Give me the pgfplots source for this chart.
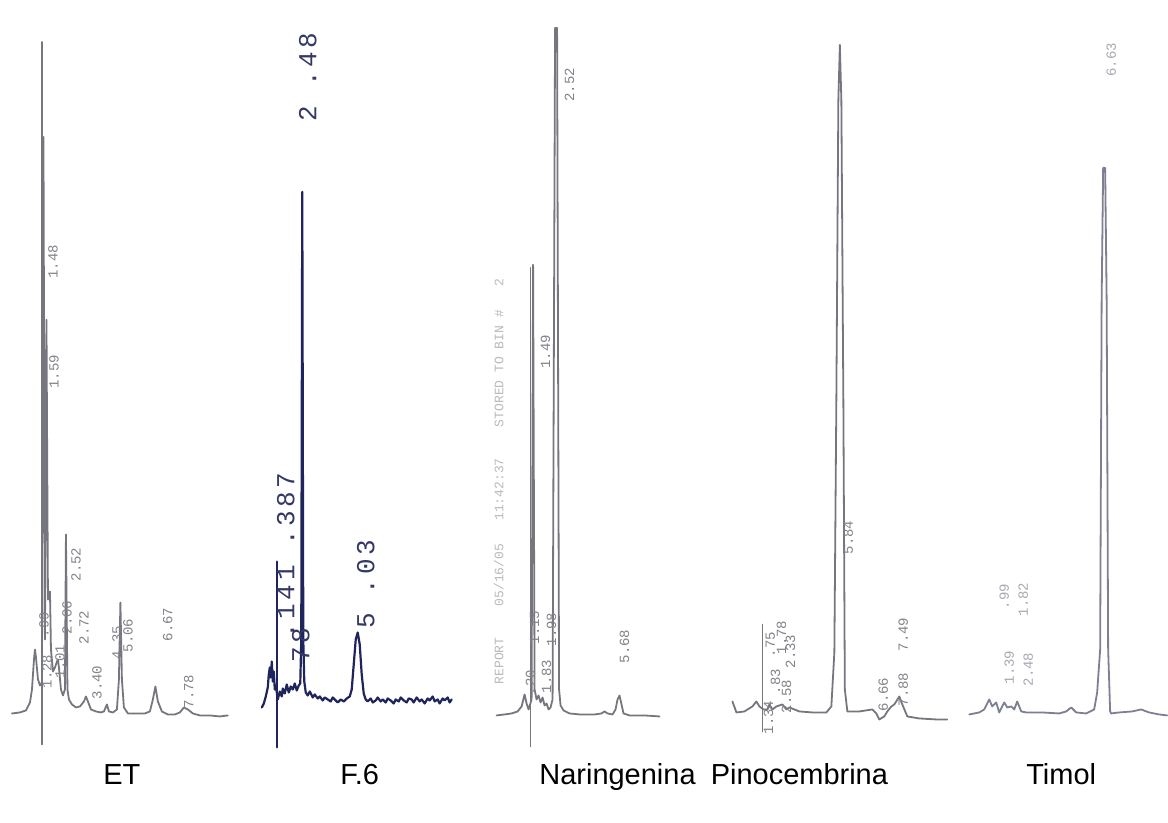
\documentclass[border=0pt]{standalone}
\usepackage{fontspec}
\setmainfont{Liberation Sans}
\setmonofont{Liberation Mono}
\newfontfamily\bigmono[LetterSpace=14]{Liberation Mono}
\usepackage{pgfplots}
\pgfplotsset{compat=1.18}

\definecolor{trace}{RGB}{118,118,126}
\definecolor{lbl}{RGB}{130,130,138}
\definecolor{navy}{RGB}{32,36,92}
\definecolor{navylbl}{RGB}{52,56,100}
\definecolor{timtrace}{RGB}{125,127,146}
\definecolor{timlbl}{RGB}{168,168,178}
\definecolor{faint}{RGB}{185,185,190}

\tikzset{
  rt/.style={rotate=90,inner sep=0pt,text=lbl,font=\ttfamily\fontsize{7}{7}\selectfont},
  rtbig/.style={rotate=90,inner sep=0pt,text=navylbl,font=\bigmono\fontsize{13}{13}\selectfont},
  title/.style={inner sep=0pt,anchor=base,font=\fontsize{14.5}{15}\selectfont,text=black},
}

\begin{document}
\begin{tikzpicture}
\begin{axis}[
  scale only axis, width=584pt, height=411.5pt,
  xmin=0, xmax=1168, ymin=0, ymax=823, y dir=reverse,
  hide axis, clip=false,
  every axis plot/.append style={line join=round, line cap=round},
]
\path (rel axis cs:0,0) rectangle (rel axis cs:1,1);

% ---------------- ET ----------------
\addplot[trace, line width=0.9pt] coordinates {(42,42) (42,745)};
\addplot[trace, line width=0.9pt] coordinates {
(12,714) (20,713) (26,711) (30,703) (32,690) (34,660) (35,650) (36,658)
(38,680) (40,686) (42,683) (43.5,137) (45,640) (46.5,320) (48,600) (50,592)
(51,650) (53,672) (55,668) (57,662) (58,660) (59,668) (61,690) (63,696)
(65,690) (66,535) (67.5,690) (69,700) (72,705) (76,708) (80,707) (84,702)
(86,697) (88,702) (91,710) (96,712) (101,713) (104,712) (107,705) (109,712)
(113,713) (117,710) (119,680) (120.5,603) (122,680) (124,708) (128,714)
(135,714) (145,714) (150,712) (153,700) (155.5,687) (158,702) (162,712)
(168,715) (175,715) (180,713) (184,708) (188,710) (193,714) (200,716)
(210,716) (220,717) (228,716)};
\node[rt] at (axis cs:53,262) {1.48};
\node[rt] at (axis cs:54,372) {1.59};
\node[rt] at (axis cs:44,625) {.99};
\node[rt] at (axis cs:47,672) {1.28};
\node[rt] at (axis cs:60,662) {1.01};
\node[rt] at (axis cs:67,618) {2.06};
\node[rt] at (axis cs:76,565) {2.52};
\node[rt] at (axis cs:84,628) {2.72};
\node[rt] at (axis cs:97,683) {3.40};
\node[rt] at (axis cs:117,643) {4.35};
\node[rt] at (axis cs:128,636) {5.06};
\node[rt] at (axis cs:168,625) {6.67};
\node[rt] at (axis cs:189,692) {7.78};
\node[title] at (axis cs:122,785) {ET};

% ---------------- F.6 ----------------
\addplot[navy, line width=1.1pt] coordinates {(277.5,562) (277.5,748)};
\addplot[navy, line width=1.1pt] coordinates {
(262,708) (264,704) (266,697) (268,688) (269,675) (270,668) (271,678)
(272,662) (273,682) (274,672) (275,690) (276,686) (278,700) (280,692)
(282,697) (283,689) (285,694) (287,685) (289,693) (291,687) (293,690)
(295,684) (297,691) (299,686) (300.5,684) (301.5,640) (302.5,192) (303.5,640)
(304.5,682) (306,693) (308,696) (310,692) (313,698) (315,695) (318,699)
(320,697) (323,701) (325,698) (328,700) (331,702) (333,698) (336,701)
(338,703) (341,700) (344,702) (347,699) (350,697) (352,690) (354,665)
(356,640) (358,633) (360,645) (362,675) (364,694) (366,700) (368,702)
(371,699) (373,703) (376,701) (378,698) (381,702) (383,700) (386,703)
(388,699) (391,701) (394,704) (396,700) (399,702) (401,698) (404,701)
(407,703) (409,699) (412,700) (414,703) (417,698) (420,702) (422,700)
(425,704) (428,699) (430,701) (433,697) (435,702) (438,700) (440,704)
(443,699) (445,701) (448,698) (450,703) (452,700)};
\node[rtbig] at (axis cs:308,77) {2 .48};
\node[rtbig] at (axis cs:286,556) {.141 .387};
\node[rtbig] at (axis cs:301,646) {78};
\node[rtbig] at (axis cs:366,585) {5 .03};
\node[title] at (axis cs:360,785) {F.6};

% ---------------- Naringenina ----------------
\node[rotate=90,inner sep=0pt,text=faint,font=\ttfamily\fontsize{6.5}{6.5}\selectfont]
  at (axis cs:499,482) {REPORT \ \ \ 05/16/05 \ \ 11:42:37 \ \ \ STORED TO BIN \# \ \ 2};
\addplot[trace, line width=0.9pt] coordinates {(531,268) (531,747)};
\addplot[trace, line width=0.9pt] coordinates {
(497,716) (505,715) (512,714) (518,712) (522,707) (525,695) (527,704)
(529,710) (532,700) (533.5,265) (535,690) (537,700) (539,696) (541,703)
(543,698) (545,706) (547,704) (549,710) (551,708) (553,700) (555.5,28)
(557.5,28) (559.5,690) (561,706) (564,711) (570,714) (580,715) (595,715)
(602,714) (605,712) (608,714) (613,715) (616,710) (618,700) (620,696)
(622,705) (624,714) (630,716) (645,716) (660,717)};
\node[rt] at (axis cs:570,85) {2.52};
\node[rt] at (axis cs:546,352) {1.49};
\node[rt] at (axis cs:535,628) {1.15};
\node[rt] at (axis cs:552,630) {1.98};
\node[rt] at (axis cs:531,683) {.20};
\node[rt] at (axis cs:547,677) {1.83};
\node[rt] at (axis cs:625,647) {5.68};
\node[title] at (axis cs:618,785) {Naringenina};

% ---------------- Pinocembrina ----------------
\addplot[trace, line width=0.9pt] coordinates {(763,625) (763,732)};
\addplot[trace, line width=0.9pt] coordinates {
(733,702) (737,713) (745,712) (753,707) (757,702) (760,707) (764,710)
(768,710) (770,705) (773,710) (777,707) (783,705) (787,710) (790,708)
(800,712) (813,713) (827,713) (832,707) (835,653) (837,400) (839,100)
(840.5,45) (842,100) (844,400) (845.5,690) (848,712) (860,712) (873,710)
(877,714) (880,720) (885,717) (888,712) (892,707) (895,705) (900,697)
(903,705) (908,717) (920,719) (937,720) (948,720)};
\node[rt] at (axis cs:849,538) {5.84};
\node[rt] at (axis cs:904,635) {7.49};
\node[rt] at (axis cs:904,690) {7.88};
\node[rt] at (axis cs:884,695) {6.66};
\node[rt] at (axis cs:771,645) {.75};
\node[rt] at (axis cs:782,638) {1.78};
\node[rt] at (axis cs:776,682) {.83};
\node[rt] at (axis cs:791,652) {2.33};
\node[rt] at (axis cs:787,697) {2.58};
\node[rt] at (axis cs:769,718) {1.34};
\node[title] at (axis cs:800,785) {Pinocembrina};

% ---------------- Timol ----------------
\addplot[timtrace, line width=0.9pt] coordinates {
(970,715) (980,713) (985,710) (990,700) (993,707) (997,703) (1000,713)
(1005,703) (1008,708) (1012,707) (1015,710) (1018,702) (1022,712)
(1027,713) (1043,713) (1060,714) (1067,712) (1072,708) (1077,713)
(1087,714) (1095,710) (1098,693) (1101,650) (1102.5,300) (1104,168)
(1106,168) (1107.5,300) (1109,650) (1111,712) (1112,714) (1120,713)
(1133,712) (1142,710) (1150,713) (1160,715) (1168,716)};
\node[rt,text=timlbl] at (axis cs:1112,60) {6.63};
\node[rt,text=timlbl] at (axis cs:1005,597) {.99};
\node[rt,text=timlbl] at (axis cs:1024,600) {1.82};
\node[rt,text=timlbl] at (axis cs:1010,668) {1.39};
\node[rt,text=timlbl] at (axis cs:1029,670) {2.48};
\node[title] at (axis cs:1062,785) {Timol};
\end{axis}
\end{tikzpicture}
\end{document}
